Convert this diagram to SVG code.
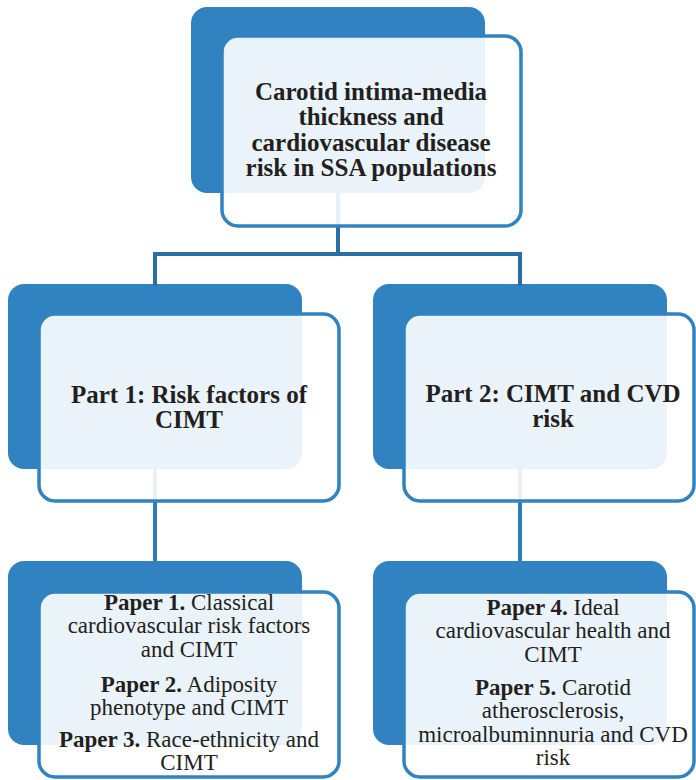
<svg xmlns="http://www.w3.org/2000/svg" width="696" height="780" viewBox="0 0 696 780">
<style>
.back{fill:#3083c0;}
.front{fill:#ffffff;fill-opacity:0.9;stroke:#3083c0;stroke-width:3.5;}
.conn{fill:none;stroke:#2870a3;stroke-width:4;}
.conn2{fill:none;stroke:#2e7db8;stroke-width:4;}
.h{font-family:'Liberation Serif','DejaVu Serif',serif;font-size:25px;font-weight:bold;fill:#231f20;text-anchor:middle;}
.p{font-family:'Liberation Serif','DejaVu Serif',serif;font-size:23px;fill:#231f20;text-anchor:middle;}
.b{font-weight:bold;}
</style>
<rect width="696" height="780" fill="#ffffff"/>
<g id="backs">
<rect class="back" x="191" y="7" width="294" height="186" rx="16"/>
<rect class="back" x="8" y="284" width="294" height="185" rx="16"/>
<rect class="back" x="373" y="284" width="294" height="185" rx="16"/>
<rect class="back" x="8" y="561" width="294" height="184" rx="16"/>
<rect class="back" x="373" y="561" width="294" height="184" rx="16"/>
</g>
<g id="connectors">
<path class="conn" d="M338 193 V254 M155 286 V254 H520 V286"/>
<path class="conn2" d="M155 469 V561 M520 469 V561"/>
</g>
<g id="top">
<rect class="front" x="222" y="36" width="299" height="190" rx="16"/>
<text class="h" x="371" y="100">Carotid intima-media</text>
<text class="h" x="371" y="125">thickness and</text>
<text class="h" x="371" y="150.5">cardiovascular disease</text>
<text class="h" x="371" y="176">risk in SSA populations</text>
</g>
<g id="part1">
<rect class="front" x="39" y="314" width="300" height="187" rx="16"/>
<text class="h" x="189" y="403">Part 1: Risk factors of</text>
<text class="h" x="189" y="428">CIMT</text>
</g>
<g id="part2">
<rect class="front" x="404" y="314" width="290" height="187" rx="16"/>
<text class="h" x="553" y="402">Part 2: CIMT and CVD</text>
<text class="h" x="553" y="427">risk</text>
</g>
<g id="papers1">
<rect class="front" x="39" y="592" width="300" height="185" rx="16"/>
<text class="p" x="189" y="610"><tspan class="b">Paper 1.</tspan> Classical</text>
<text class="p" x="189" y="633">cardiovascular risk factors</text>
<text class="p" x="189" y="657">and CIMT</text>
<text class="p" x="189" y="692"><tspan class="b">Paper 2.</tspan> Adiposity</text>
<text class="p" x="189" y="715">phenotype and CIMT</text>
<text class="p" x="189" y="747"><tspan class="b">Paper 3.</tspan> Race-ethnicity and</text>
<text class="p" x="189" y="770">CIMT</text>
</g>
<g id="papers2">
<rect class="front" x="404" y="592" width="290" height="185" rx="16"/>
<text class="p" x="553" y="615"><tspan class="b">Paper 4.</tspan> Ideal</text>
<text class="p" x="553" y="638">cardiovascular health and</text>
<text class="p" x="553" y="662">CIMT</text>
<text class="p" x="553" y="695"><tspan class="b">Paper 5.</tspan> Carotid</text>
<text class="p" x="553" y="718">atherosclerosis,</text>
<text class="p" x="553" y="742">microalbuminnuria and CVD</text>
<text class="p" x="553" y="765">risk</text>
</g>
</svg>
